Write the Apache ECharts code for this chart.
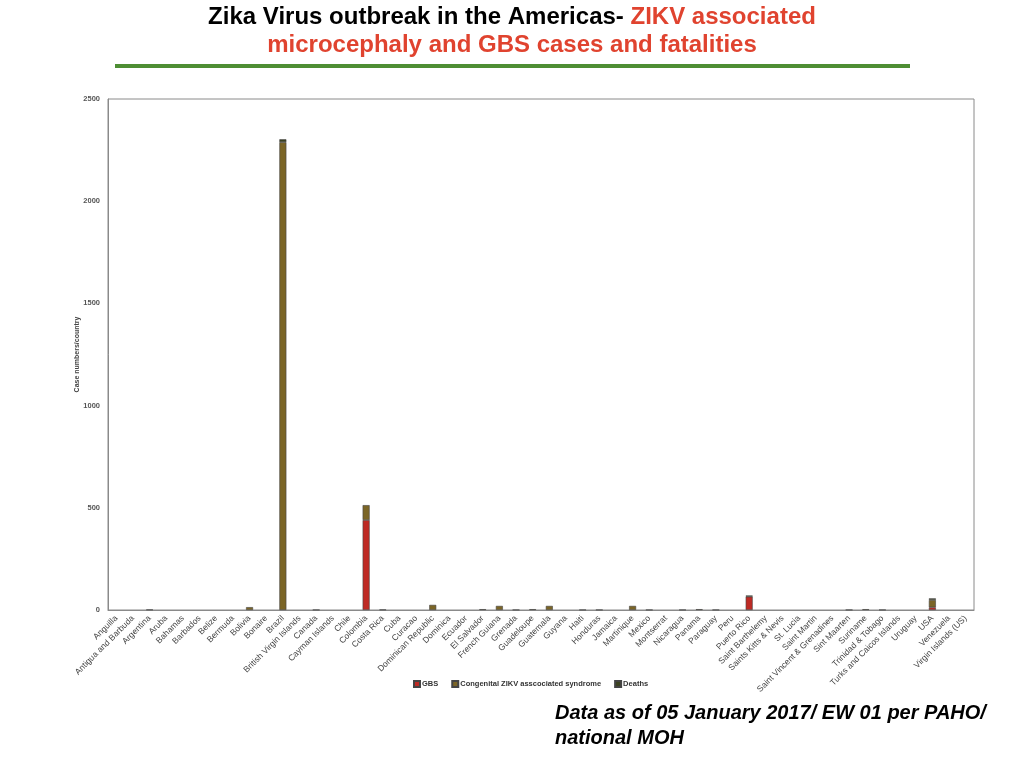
<!DOCTYPE html>
<html>
<head>
<meta charset="utf-8">
<script src="https://cdn.jsdelivr.net/npm/echarts@6/dist/echarts.min.js"></script>
<style>
  html, body { margin: 0; padding: 0; background: #fff; }
  #chartmain { width: 1024px; height: 768px; }
</style>
</head>
<body>
<div id="chartmain"></div>
<script>
var countries = ['Anguilla', 'Antigua and Barbuda', 'Argentina', 'Aruba', 'Bahamas', 'Barbados',
	'Belize', 'Bermuda', 'Bolivia', 'Bonaire', 'Brazil', 'British Virgin Islands', 'Canada',
	'Cayman Islands', 'Chile', 'Colombia', 'Costa Rica', 'Cuba', 'Curacao', 'Dominican Republic',
	'Dominica', 'Ecuador', 'El Salvador', 'French Guiana', 'Grenada', 'Guadeloupe', 'Guatemala',
	'Guyana', 'Haiti', 'Honduras', 'Jamaica', 'Martinique', 'Mexico', 'Montserrat', 'Nicaragua',
	'Panama', 'Paraguay', 'Peru', 'Puerto Rico', 'Saint Barthelemy', 'Saints Kitts & Nevis',
	'St. Lucia', 'Saint Martin', 'Saint Vincent & Grenadines', 'Sint Maarten', 'Suriname',
	'Trinidad & Tobago', 'Turks and Caicos Islands', 'Uruguay', 'USA', 'Venezuela',
	'Virgin Islands (US)'];

var gbs = [0, 0, 0, 0, 0, 0, 0, 0, 0, 0, 0, 0, 0, 0, 0, 440, 0, 0, 0, 0,
	0, 0, 0, 0, 0, 0, 0, 0, 0, 0, 0, 0, 0, 0, 0, 0, 0, 0, 65, 0,
	0, 0, 0, 0, 0, 0, 0, 0, 0, 13, 0, 0];

var congenital = [0, 0, 2, 0, 0, 0, 0, 0, 14, 0, 2289, 0, 1, 0, 0, 73, 2, 0, 0, 25,
	0, 0, 4, 20, 1, 4, 20, 0, 1, 1, 0, 20, 1, 0, 1, 4, 1, 0, 0, 0,
	0, 0, 0, 0, 1, 4, 1, 0, 0, 36, 0, 0];

var deaths = [0, 0, 0, 0, 0, 0, 0, 0, 0, 0, 14, 0, 0, 0, 0, 0, 0, 0, 0, 0,
	0, 0, 0, 0, 0, 0, 0, 0, 0, 0, 0, 0, 0, 0, 0, 0, 0, 0, 6, 0,
	0, 0, 0, 0, 0, 0, 0, 0, 0, 8, 0, 0];

var yTicks = [0, 500, 1000, 1500, 2000, 2500];

// zero means no bar at all
function bars(arr) {
	return arr.map(function(v) { return v === 0 ? '-' : v; });
}

var titleFont = '"Liberation Sans", Arial, sans-serif';
var barBorder = { borderColor: '#444', borderWidth: 0.6 };

var option = {
	animation: false,
	backgroundColor: '#fff',
	graphic: [
		{
			type: 'text', x: 512, y: 17,
			style: {
				text: '{k|Zika Virus outbreak in the Americas- }{r|ZIKV associated}',
				align: 'center', verticalAlign: 'middle',
				rich: {
					k: { fontFamily: titleFont, fontWeight: 'bold', fontSize: 24, fill: '#000' },
					r: { fontFamily: titleFont, fontWeight: 'bold', fontSize: 24, fill: '#e0432f' }
				}
			}
		},
		{
			type: 'text', x: 512, y: 45,
			style: {
				text: 'microcephaly and GBS cases and fatalities',
				align: 'center', verticalAlign: 'middle',
				fontFamily: titleFont, fontWeight: 'bold', fontSize: 24, fill: '#e0432f'
			}
		},
		{
			type: 'rect', shape: { x: 115, y: 64, width: 795, height: 4 },
			style: { fill: '#4e8e34' }
		},
		{
			type: 'text', x: 555, y: 701,
			style: {
				text: 'Data as of 05 January 2017/ EW 01 per PAHO/\nnational MOH',
				verticalAlign: 'top', lineHeight: 25,
				fontFamily: '"Liberation Sans", Arial, sans-serif',
				fontWeight: 'bold', fontStyle: 'italic', fontSize: 20, fill: '#000'
			}
		}
	],
	legend: {
		left: 413, top: 680, padding: 0,
		icon: 'rect',
		itemWidth: 6, itemHeight: 6, itemGap: 13,
		textStyle: { fontSize: 7.5, color: '#333', fontFamily: 'Liberation Sans, Arial', fontWeight: 'bold', padding: [0, 0, 0, -3] },
		data: ['GBS', 'Congenital ZIKV asscociated syndrome', 'Deaths']
	},
	grid: {
		left: 108, right: 50, top: 99, bottom: 158,
		show: true, borderColor: '#8a8a8a', borderWidth: 1
	},
	xAxis: {
		type: 'category',
		data: countries,
		axisLine: { lineStyle: { color: '#8a8a8a' } },
		axisTick: { show: false },
		axisLabel: {
			interval: 0, rotate: 45, fontSize: 8.5, color: '#444', margin: 7,
			fontFamily: 'Liberation Sans, Arial'
		}
	},
	yAxis: {
		type: 'value',
		min: yTicks[0], max: yTicks[yTicks.length - 1], interval: 500,
		name: 'Case numbers/country',
		nameLocation: 'middle', nameGap: 27, nameMoveOverlap: false,
		nameTextStyle: { fontSize: 7, color: '#444', fontWeight: 'bold', fontFamily: 'Liberation Sans, Arial' },
		splitLine: { show: false },
		axisLine: { show: true, lineStyle: { color: '#8a8a8a' } },
		axisTick: { show: false },
		axisLabel: {
			fontSize: 7.5, color: '#555', fontWeight: 'bold', margin: 8, fontFamily: 'Liberation Sans, Arial',
			formatter: function(v) { return String(v); }
		}
	},
	series: [
		{
			name: 'GBS', type: 'bar', stack: 'total', barWidth: 7,
			itemStyle: Object.assign({ color: '#be2a24' }, barBorder),
			data: bars(gbs)
		},
		{
			name: 'Congenital ZIKV asscociated syndrome', type: 'bar', stack: 'total', barWidth: 7,
			itemStyle: Object.assign({ color: '#7b6526' }, barBorder),
			data: bars(congenital)
		},
		{
			name: 'Deaths', type: 'bar', stack: 'total', barWidth: 7,
			itemStyle: Object.assign({ color: '#3c4220' }, barBorder),
			data: bars(deaths)
		}
	]
};

var myChart = echarts.init(document.getElementById('chartmain'));
myChart.setOption(option);
</script>
</body>
</html>
